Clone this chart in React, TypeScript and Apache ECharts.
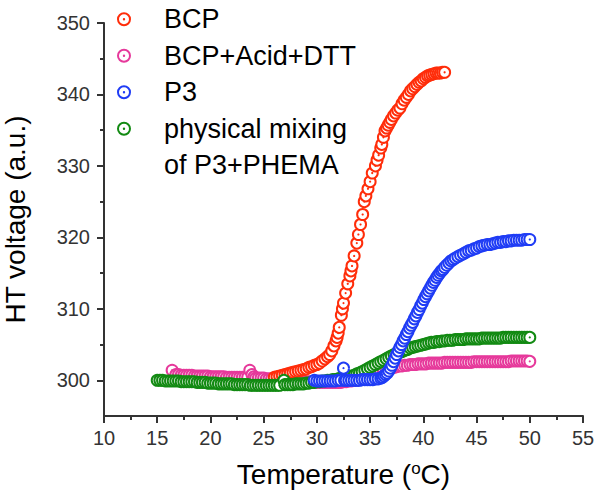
import React, { useEffect, useRef } from 'react';
import * as echarts from 'echarts';

const xMin = 10;
const xMax = 55;
const xStep = 5;
const yMin = 295;
const yMax = 350;
const yTickLabels = [300, 310, 320, 330, 340, 350];
const yMinorTicks = [305, 315, 325, 335, 345];

const seriesNames = ['BCP', 'BCP+Acid+DTT', 'P3', 'physical mixing of P3+PHEMA'];
const seriesColors = ['#ff2d0a', '#e6399b', '#1f3cf5', '#128a12'];

const bcp: [number, number][] = [
  [26.0, 300.4], [26.25, 300.5], [26.5, 300.6], [26.75, 300.7], [27.0, 300.8], [27.25, 300.9],
  [27.5, 301.0], [27.75, 301.1], [28.0, 301.2], [28.25, 301.3], [28.5, 301.4], [28.75, 301.5],
  [29.0, 301.6], [29.25, 301.8], [29.5, 301.9], [29.75, 302.1], [30.0, 302.2], [30.25, 302.4],
  [30.5, 302.7], [30.75, 303.0], [31.0, 303.3], [31.2, 303.6], [31.4, 304.1], [31.6, 304.8],
  [31.8, 305.5], [31.9, 306.0], [32.0, 306.6], [32.1, 307.4], [32.3, 309.1], [32.4, 310.0],
  [32.5, 310.8], [32.7, 312.2], [32.9, 313.5], [33.1, 314.6], [33.2, 315.3], [33.3, 316.0],
  [33.5, 317.4], [33.75, 319.2], [33.9, 320.4], [34.1, 321.8], [34.3, 323.2], [34.45, 325.0],
  [34.6, 325.8], [34.8, 326.8], [35.0, 327.8], [35.2, 329.0], [35.5, 330.0], [35.65, 330.8],
  [35.8, 331.5], [36.0, 332.5], [36.1, 333.0], [36.25, 334.0], [36.4, 334.9], [36.55, 335.3],
  [36.7, 335.7], [36.85, 336.1], [37.0, 336.5], [37.2, 337.0], [37.4, 337.4], [37.6, 337.8],
  [37.8, 338.1], [38.0, 338.7], [38.2, 339.2], [38.4, 339.6], [38.6, 340.0], [38.8, 340.5],
  [39.0, 340.8], [39.2, 341.1], [39.4, 341.4], [39.6, 341.7], [39.8, 341.9], [40.0, 342.2],
  [40.2, 342.4], [40.4, 342.6], [40.6, 342.7], [40.8, 342.8], [41.0, 342.9], [41.2, 343.0],
  [41.4, 343.0], [41.6, 343.0], [41.8, 343.1], [42.0, 343.1],
];

const acidDtt: [number, number][] = [
  [16.4, 301.4], [16.75, 300.8], [17.0, 300.8], [17.25, 300.7], [17.5, 300.7], [17.75, 300.7],
  [18.0, 300.7], [18.25, 300.7], [18.5, 300.6], [18.75, 300.6], [19.0, 300.6], [19.25, 300.6],
  [19.5, 300.6], [19.75, 300.6], [20.0, 300.5], [20.25, 300.5], [20.5, 300.5], [20.75, 300.5],
  [21.0, 300.5], [21.25, 300.5], [21.5, 300.4], [21.75, 300.4], [22.0, 300.4], [22.25, 300.4],
  [22.5, 300.4], [22.75, 300.4], [23.0, 300.4], [23.25, 300.4], [23.5, 300.4], [23.7, 301.4],
  [23.9, 300.8], [24.1, 300.5], [24.25, 300.3], [24.5, 300.3], [24.75, 300.3], [25.0, 300.3],
  [25.25, 300.2], [25.5, 300.2], [25.75, 300.2], [26.0, 300.1], [26.25, 300.1], [26.5, 300.1],
  [26.75, 300.0], [27.0, 300.0], [27.25, 300.0], [27.5, 300.0], [27.75, 299.9], [28.0, 299.9],
  [28.25, 299.9], [28.5, 299.9], [28.75, 299.8], [29.0, 299.8], [29.25, 299.8], [29.5, 299.8],
  [29.75, 299.7], [30.0, 299.7], [30.25, 299.7], [30.5, 299.7], [30.75, 299.7], [31.0, 299.7],
  [31.25, 299.7], [31.5, 299.7], [31.75, 299.7], [32.0, 299.7], [32.25, 299.7], [32.5, 299.8],
  [32.75, 299.8], [33.0, 299.9], [33.25, 299.9], [33.5, 300.0], [33.75, 300.0], [34.0, 300.1],
  [34.25, 300.2], [34.5, 300.3], [34.75, 300.4], [35.0, 300.6], [35.25, 300.7], [35.5, 300.9],
  [35.75, 301.0], [36.0, 301.2], [36.25, 301.3], [36.5, 301.5], [36.75, 301.6], [37.0, 301.7],
  [37.25, 301.8], [37.5, 301.9], [37.75, 302.0], [38.0, 302.0], [38.25, 302.1], [38.5, 302.1],
  [38.75, 302.2], [39.0, 302.2], [39.25, 302.2], [39.5, 302.3], [39.75, 302.3], [40.0, 302.3],
  [40.25, 302.3], [40.5, 302.4], [40.75, 302.4], [41.0, 302.4], [41.25, 302.4], [41.5, 302.4],
  [41.75, 302.4], [42.0, 302.5], [42.25, 302.5], [42.5, 302.5], [42.75, 302.5], [43.0, 302.5],
  [43.25, 302.5], [43.5, 302.5], [43.75, 302.5], [44.0, 302.5], [44.25, 302.5], [44.5, 302.5],
  [44.75, 302.6], [45.0, 302.6], [45.25, 302.6], [45.5, 302.6], [45.75, 302.6], [46.0, 302.6],
  [46.25, 302.6], [46.5, 302.6], [46.75, 302.6], [47.0, 302.6], [47.25, 302.6], [47.5, 302.6],
  [47.75, 302.6], [48.0, 302.6], [48.25, 302.7], [48.5, 302.7], [48.75, 302.7], [49.0, 302.7],
  [49.25, 302.7], [49.5, 302.7], [49.75, 302.7], [50.0, 302.65],
];

const p3: [number, number][] = [
  [29.75, 300.0], [30.0, 299.9], [30.25, 299.9], [30.5, 299.9], [30.75, 299.9], [31.0, 299.9],
  [31.25, 299.9], [31.5, 299.9], [31.75, 299.9], [32.0, 300.0], [32.25, 300.0], [32.5, 301.7],
  [32.6, 300.0], [32.75, 300.0], [33.0, 300.0], [33.25, 300.0], [33.5, 300.0], [33.75, 300.0],
  [34.0, 300.0], [34.25, 300.1], [34.5, 300.1], [34.75, 300.1], [35.0, 300.1], [35.25, 300.1],
  [35.5, 300.2], [35.75, 300.2], [36.0, 300.3], [36.15, 300.4], [36.3, 300.6], [36.45, 300.8],
  [36.6, 301.0], [36.75, 301.3], [36.9, 301.7], [37.05, 302.1], [37.2, 302.6], [37.35, 303.1],
  [37.5, 303.6], [37.65, 304.1], [37.8, 304.6], [37.95, 305.0], [38.1, 305.5], [38.25, 305.9],
  [38.4, 306.4], [38.55, 306.8], [38.7, 307.3], [38.85, 307.7], [39.0, 308.1], [39.15, 308.6],
  [39.3, 309.0], [39.45, 309.5], [39.6, 309.9], [39.75, 310.4], [39.9, 310.8], [40.05, 311.3],
  [40.2, 311.7], [40.35, 312.1], [40.5, 312.5], [40.65, 312.9], [40.8, 313.3], [40.95, 313.7],
  [41.1, 314.0], [41.25, 314.4], [41.4, 314.7], [41.55, 315.0], [41.7, 315.3], [41.85, 315.5],
  [42.0, 315.8], [42.2, 316.1], [42.4, 316.4], [42.6, 316.7], [42.8, 316.9], [43.0, 317.1],
  [43.25, 317.3], [43.5, 317.5], [43.75, 317.7], [44.0, 317.9], [44.25, 318.1], [44.5, 318.2],
  [44.75, 318.4], [45.0, 318.5], [45.25, 318.7], [45.5, 318.8], [45.75, 318.9], [46.0, 319.0],
  [46.25, 319.0], [46.5, 319.1], [46.75, 319.2], [47.0, 319.3], [47.25, 319.3], [47.5, 319.4],
  [47.75, 319.4], [48.0, 319.5], [48.25, 319.5], [48.5, 319.6], [48.75, 319.6], [49.0, 319.6],
  [49.25, 319.6], [49.5, 319.7], [49.75, 319.7], [50.0, 319.7],
];

const mixing: [number, number][] = [
  [15.0, 300.0], [15.25, 300.0], [15.5, 300.0], [15.75, 299.9], [16.0, 299.9], [16.25, 299.9],
  [16.5, 299.9], [16.75, 299.9], [17.0, 299.9], [17.25, 299.8], [17.5, 299.8], [17.75, 299.8],
  [18.0, 299.8], [18.25, 299.8], [18.5, 299.8], [18.75, 299.7], [19.0, 299.7], [19.25, 299.7],
  [19.5, 299.7], [19.75, 299.6], [20.0, 299.6], [20.25, 299.6], [20.5, 299.6], [20.75, 299.5],
  [21.0, 299.5], [21.25, 299.5], [21.5, 299.5], [21.75, 299.5], [22.0, 299.5], [22.25, 299.4],
  [22.5, 299.4], [22.75, 299.4], [23.0, 299.4], [23.25, 299.4], [23.5, 299.4], [23.75, 299.3],
  [24.0, 299.3], [24.25, 299.3], [24.5, 299.3], [24.75, 299.3], [25.0, 299.3], [25.25, 299.3],
  [25.5, 299.3], [25.75, 299.3], [26.0, 299.3], [26.25, 299.3], [26.5, 299.3], [26.9, 300.0],
  [27.0, 299.4], [27.25, 299.4], [27.5, 299.4], [27.75, 299.4], [28.0, 299.5], [28.25, 299.5],
  [28.5, 299.5], [28.75, 299.5], [29.0, 299.6], [29.25, 299.6], [29.5, 299.7], [29.75, 299.7],
  [30.0, 299.8], [30.25, 299.8], [30.5, 299.9], [30.75, 299.9], [31.0, 300.0], [31.25, 300.0],
  [31.5, 300.1], [31.75, 300.1], [32.0, 300.2], [32.25, 300.3], [32.5, 300.3], [32.75, 300.4],
  [33.0, 300.5], [33.25, 300.6], [33.5, 300.7], [33.75, 300.9], [34.0, 301.0], [34.25, 301.2],
  [34.5, 301.4], [34.75, 301.6], [35.0, 301.8], [35.25, 302.0], [35.5, 302.2], [35.75, 302.4],
  [36.0, 302.6], [36.25, 302.8], [36.5, 303.0], [36.75, 303.2], [37.0, 303.4], [37.25, 303.6],
  [37.5, 303.7], [37.75, 303.9], [38.0, 304.0], [38.25, 304.2], [38.5, 304.3], [38.75, 304.5],
  [39.0, 304.6], [39.25, 304.7], [39.5, 304.8], [39.75, 304.9], [40.0, 305.0], [40.25, 305.1],
  [40.5, 305.2], [40.75, 305.3], [41.0, 305.3], [41.25, 305.4], [41.5, 305.4], [41.75, 305.5],
  [42.0, 305.5], [42.25, 305.6], [42.5, 305.6], [42.75, 305.6], [43.0, 305.7], [43.25, 305.7],
  [43.5, 305.7], [43.75, 305.7], [44.0, 305.8], [44.25, 305.8], [44.5, 305.8], [44.75, 305.8],
  [45.0, 305.8], [45.25, 305.8], [45.5, 305.9], [45.75, 305.9], [46.0, 305.9], [46.25, 305.9],
  [46.5, 305.9], [46.75, 305.9], [47.0, 305.9], [47.25, 305.9], [47.5, 306.0], [47.75, 306.0],
  [48.0, 306.0], [48.25, 306.0], [48.5, 306.0], [48.75, 306.0], [49.0, 306.0], [49.25, 306.0],
  [49.5, 306.0], [49.75, 306.0], [50.0, 306.0],
];

const FONT = "'Liberation Sans', Arial, Helvetica, sans-serif";
const AXIS_COLOR = '#333';
const RING_ICON =
  'path://M7,0A7,7 0 1,1 7,14A7,7 0 1,1 7,0Z M7,2A5,5 0 1,0 7,12A5,5 0 1,0 7,2Z M7,5.8A1.2,1.2 0 1,1 7,8.2A1.2,1.2 0 1,1 7,5.8Z';

function ringSeries(name: string, data: [number, number][], color: string) {
  return {
    type: 'custom',
    name,
    data,
    encode: { x: 0, y: 1 },
    itemStyle: { color },
    renderItem: (_params: any, api: any) => {
      const p = api.coord([api.value(0), api.value(1)]);
      return {
        type: 'group',
        children: [
          {
            type: 'circle',
            shape: { cx: p[0], cy: p[1], r: 5.5 },
            style: { fill: '#ffffff', stroke: color, lineWidth: 2 },
          },
          {
            type: 'circle',
            shape: { cx: p[0], cy: p[1], r: 1.1 },
            style: { fill: color },
          },
        ],
      };
    },
  };
}

export default function App() {
  const ref = useRef<HTMLDivElement>(null);

  useEffect(() => {
    if (!ref.current) return;
    const chart = echarts.init(ref.current, undefined, { renderer: 'svg' });
    const tickLine = { color: AXIS_COLOR, width: 2 };
    chart.setOption({
      animation: false,
      backgroundColor: '#ffffff',
      grid: { left: 104, right: 17, top: 23, bottom: 79, outerBoundsMode: 'none' },
      legend: {
        orient: 'vertical',
        left: 117,
        top: 1,
        padding: 0,
        itemGap: 0,
        itemWidth: 14,
        itemHeight: 14,
        itemStyle: { borderWidth: 0 },
        textStyle: {
          fontSize: 27,
          fontFamily: FONT,
          color: '#000',
          lineHeight: 36.5,
          padding: [0, 0, 0, 28],
        },
        formatter: (n: string) => (n === seriesNames[3] ? 'physical mixing' : n),
        data: seriesNames.map((n) => ({ name: n, icon: RING_ICON })),
        selectedMode: false,
      },
      graphic: [
        {
          type: 'text',
          x: 164,
          y: 165,
          style: {
            text: 'of P3+PHEMA',
            fontSize: 27,
            fontFamily: FONT,
            fill: '#000',
            verticalAlign: 'middle',
          },
        },
      ],
      xAxis: {
        type: 'value',
        min: xMin,
        max: xMax,
        interval: xStep,
        name: 'Temperature ({sup|o}C)',
        nameLocation: 'middle',
        nameGap: 44,
        nameTextStyle: {
          fontSize: 28,
          fontFamily: FONT,
          color: '#000',
          rich: { sup: { fontSize: 17, fontFamily: FONT, color: '#000', verticalAlign: 'top' } },
        },
        axisLine: { onZero: false, lineStyle: tickLine },
        axisTick: { length: 7, lineStyle: tickLine },
        minorTick: { show: true, splitNumber: 2, length: 4, lineStyle: tickLine },
        splitLine: { show: false },
        minorSplitLine: { show: false },
        axisLabel: { fontSize: 20, fontFamily: FONT, color: AXIS_COLOR, margin: 12 },
      },
      yAxis: [
        {
          type: 'value',
          min: yMin,
          max: yMax,
          position: 'left',
          name: 'HT voltage (a.u.)',
          nameLocation: 'middle',
          nameGap: 75,
          nameTextStyle: { fontSize: 28, fontFamily: FONT, color: '#000' },
          axisLine: { show: true, onZero: false, lineStyle: tickLine },
          axisTick: { show: true, length: 7, lineStyle: tickLine, customValues: yTickLabels },
          axisLabel: {
            fontSize: 20,
            fontFamily: FONT,
            color: AXIS_COLOR,
            margin: 14,
            customValues: yTickLabels,
          },
          splitLine: { show: false },
        },
        {
          type: 'value',
          min: yMin,
          max: yMax,
          position: 'left',
          axisLine: { show: false, onZero: false },
          axisTick: { show: true, length: 4, lineStyle: tickLine, customValues: yMinorTicks },
          axisLabel: { show: false },
          splitLine: { show: false },
        },
      ],
      series: [
        ringSeries(seriesNames[1], acidDtt, seriesColors[1]),
        ringSeries(seriesNames[0], bcp, seriesColors[0]),
        ringSeries(seriesNames[3], mixing, seriesColors[3]),
        ringSeries(seriesNames[2], p3, seriesColors[2]),
      ],
    });
    return () => chart.dispose();
  }, []);

  return (
    <div
      ref={ref}
      style={{ position: 'fixed', left: 0, top: 0, width: 600, height: 495, background: '#fff' }}
    />
  );
}
